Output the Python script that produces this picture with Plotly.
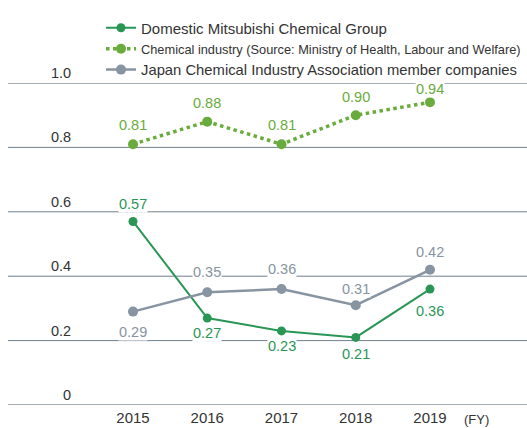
import plotly.graph_objects as go

years = [2015, 2016, 2017, 2018, 2019]
mcg = [0.57, 0.27, 0.23, 0.21, 0.36]
chem_industry = [0.81, 0.88, 0.81, 0.90, 0.94]
jcia = [0.29, 0.35, 0.36, 0.31, 0.42]
y_ticks = [0, 0.2, 0.4, 0.6, 0.8, 1.0]
y_tick_labels = ["0", "0.2", "0.4", "0.6", "0.8", "1.0"]

names = [
    "Domestic Mitsubishi Chemical Group",
    "Chemical industry (Source: Ministry of Health, Labour and Welfare)",
    "Japan Chemical Industry Association member companies",
]

C_MCG = "#2a9656"
C_CHEM = "#6aab3d"
C_JCIA = "#8794a2"
TXT = "#333333"
FONT = "Liberation Sans, Arial, sans-serif"

W, H = 527, 428
ML, MR, MT, MB = 8, 0, 83, 428 - 405
PW, PH = W - ML - MR, H - MT - MB

# label offsets in px (positive = above)
label_shift = {
    "mcg": [17, -15, -15, -17, -22],
    "chem": [19, 19, 19, 18, 13],
    "jcia": [-20, 20, 20, 16, 18],
}

fig = go.Figure()
fig.add_trace(go.Scatter(x=years, y=mcg, name=names[0], mode="lines+markers",
                         line=dict(color=C_MCG, width=2), marker=dict(size=9, color=C_MCG),
                         legend="legend"))
fig.add_trace(go.Scatter(x=years, y=chem_industry, name=names[1], mode="lines+markers",
                         line=dict(color=C_CHEM, width=3.5, dash="dot"),
                         marker=dict(size=10, color=C_CHEM), legend="legend2"))
fig.add_trace(go.Scatter(x=years, y=jcia, name=names[2], mode="lines+markers",
                         line=dict(color=C_JCIA, width=2.5), marker=dict(size=10, color=C_JCIA),
                         legend="legend3"))

annotations = []
for key, vals, col in [("mcg", mcg, C_MCG), ("chem", chem_industry, C_CHEM), ("jcia", jcia, C_JCIA)]:
    for i, (xv, yv) in enumerate(zip(years, vals)):
        annotations.append(dict(x=xv, y=yv, xref="x", yref="y", text=f"{yv:.2f}",
                                showarrow=False, yshift=label_shift[key][i],
                                font=dict(family=FONT, size=14.5, color=col),
                                bgcolor="white", borderpad=0))

def px_x(page_x):
    return (page_x - ML) / PW

for v, t in zip(y_ticks, y_tick_labels):
    annotations.append(dict(x=px_x(73), y=v, xref="paper", yref="y", text=t, showarrow=False,
                            xanchor="right", yanchor="bottom", yshift=0,
                            font=dict(family=FONT, size=14.5, color=TXT)))
annotations.append(dict(x=px_x(491), y=0, xref="paper", yref="y", text="(FY)", showarrow=False,
                        yanchor="top", yshift=-5, font=dict(family=FONT, size=13, color=TXT)))

shapes = []
for v in y_ticks:
    edge = v in (y_ticks[0], y_ticks[-1])
    shapes.append(dict(type="line", xref="paper", yref="y", x0=0, x1=1, y0=v, y1=v,
                       line=dict(color="#a6aeb6" if edge else "#6f7f8e", width=2 if edge else 1),
                       layer="below"))

# x range so that 2015 sits at x=133 px and 2019 at x=430 px
step = (430 - 133) / (years[-1] - years[0])
x_lo = years[0] - (133 - ML) / step
x_hi = years[-1] + (W - 430) / step

leg_common = dict(xref="paper", yref="paper", xanchor="left", yanchor="middle",
                  bgcolor="rgba(0,0,0,0)", borderwidth=0, itemwidth=30)
legx = px_x(101)
def legy(py):
    return (405 - py) / PH

fig.update_layout(
    width=W, height=H,
    margin=dict(l=ML, r=MR, t=MT, b=MB, autoexpand=False),
    paper_bgcolor="white", plot_bgcolor="white",
    font=dict(family=FONT, color=TXT),
    xaxis=dict(range=[x_lo, x_hi], tickvals=years, ticktext=[str(y) for y in years],
               showgrid=False, zeroline=False, showline=False, ticks="",
               tickfont=dict(family=FONT, size=15, color=TXT), ticklabelstandoff=2),
    yaxis=dict(range=[0, 1.0], showgrid=False, zeroline=False, showline=False,
               showticklabels=False, ticks=""),
    legend=dict(x=legx, y=legy(28), font=dict(family=FONT, size=15, color=TXT), **leg_common),
    legend2=dict(x=legx, y=legy(49), font=dict(family=FONT, size=12.8, color=TXT), **leg_common),
    legend3=dict(x=legx, y=legy(70), font=dict(family=FONT, size=14.8, color=TXT), **leg_common),
    annotations=annotations, shapes=shapes, showlegend=True,
)

fig.write_html("out.html", config={"displayModeBar": False},
               post_script="document.body.style.margin='0';document.body.style.overflow='hidden';")
